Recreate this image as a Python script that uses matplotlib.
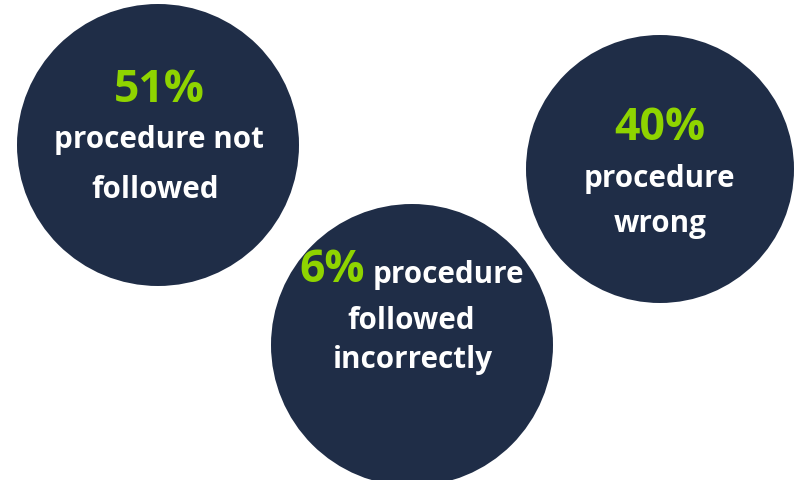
import matplotlib.pyplot as plt
from matplotlib.patches import Circle

plt.rcParams['font.family'] = ['Open Sans', 'DejaVu Sans']

percents = [51, 6, 40]
descriptions = ["procedure not\nfollowed", "procedure\nfollowed\nincorrectly", "procedure\nwrong"]

NAVY = '#1f2d47'
GREEN = '#8fd400'
BIG = 32
SMALL = 21.3

# layout in pixel coords (x, y, radius)
circles = [(158, 146, 141), (412, 346, 141), (660, 170, 134)]

fig = plt.figure(figsize=(7.98, 4.81), dpi=100)
ax = fig.add_axes([0, 0, 1, 1])
ax.set_xlim(0, 798)
ax.set_ylim(481, 0)
ax.set_aspect('equal')
ax.axis('off')

for (cx, cy, r) in circles:
    ax.add_patch(Circle((cx, cy), r, facecolor=NAVY, edgecolor='none'))


def label(x, y, s, big=False):
    ax.text(x, y, s, color=GREEN if big else 'white', fontsize=BIG if big else SMALL,
            fontweight='bold', ha='center', va='baseline')


# 51% circle
lines = descriptions[0].split("\n")
label(159, 102, f"{percents[0]}%", big=True)
label(159, 148, lines[0])
label(155, 198, lines[1])

# 40% circle
lines = descriptions[2].split("\n")
label(660, 140, f"{percents[2]}%", big=True)
label(659, 187, lines[0])
label(660, 232, lines[1])

# 6% circle
lines = descriptions[1].split("\n")
label(332, 282, f"{percents[1]}%", big=True)
label(448, 283, lines[0])
label(411, 329, lines[1])
label(413, 368, lines[2])

fig.savefig('out.png', dpi=100, facecolor='white')
